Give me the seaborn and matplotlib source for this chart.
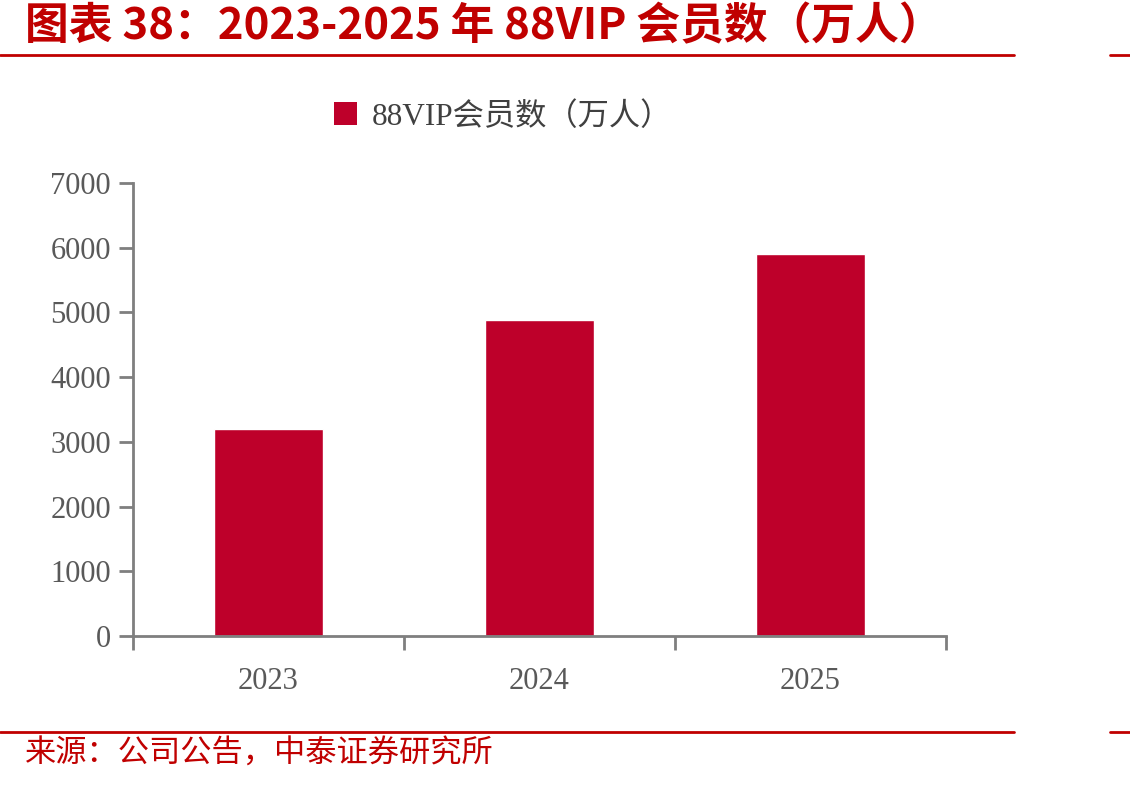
import matplotlib
matplotlib.use("Agg")
import pandas as pd
import seaborn as sns
import matplotlib.pyplot as plt
from matplotlib.patches import Patch
from matplotlib.lines import Line2D

# data
years = ["2023", "2024", "2025"]
members = [3200, 4890, 5910]
y_ticks = [0, 1000, 2000, 3000, 4000, 5000, 6000, 7000]

title_text = "图表 38：2023-2025 年 88VIP 会员数（万人）"
legend_text = "88VIP会员数（万人）"
source_text = "来源：公司公告，中泰证券研究所"

df = pd.DataFrame({"year": years, "members": members})

sns.set_style("white")
plt.rcParams["font.family"] = ["Liberation Serif", "Noto Sans CJK SC", "DejaVu Sans"]

red = "#C00000"
bar_red = "#BE002A"
grey = "#7F7F7F"
text_grey = "#595959"

fig = plt.figure(figsize=(11.3, 7.85), dpi=100)
ax = fig.add_axes([0.1177, 0.1898, 0.7195, 0.577])

sns.barplot(data=df, x="year", y="members", color=bar_red, width=0.4,
            saturation=1, ax=ax)

ax.set_xlim(-0.5, 2.5)
ax.set_ylim(0, 7000)
ax.set_yticks(y_ticks)
ax.set_xlabel("")
ax.set_ylabel("")

for side in ["top", "right"]:
    ax.spines[side].set_visible(False)
for side in ["left", "bottom"]:
    ax.spines[side].set_color(grey)
    ax.spines[side].set_linewidth(2)

# category separators as downward ticks on the x axis
ax.set_xticks([-0.5, 0.5, 1.5, 2.5], minor=True)
ax.tick_params(axis="x", which="minor", length=10, width=2, color=grey,
               direction="out", bottom=True)
ax.tick_params(axis="x", which="major", length=0, pad=22,
               labelsize=22, labelcolor=text_grey)
ax.tick_params(axis="y", length=10, width=2, color=grey, direction="out",
               left=True, pad=6, labelsize=22, labelcolor=text_grey)

# legend above the plot
handle = Patch(facecolor=bar_red, edgecolor="none")
fig.legend([handle], [legend_text], loc="center", bbox_to_anchor=(0.445, 0.851),
           frameon=False, labelcolor="#404040",
           handlelength=0.75, handleheight=0.75, handletextpad=0.45,
           prop={"family": ["Liberation Serif", "Noto Sans CJK SC"], "size": 22.5})

# header and footer
fig.text(0.022, 0.966, title_text, color=red, fontsize=31.5, fontweight="bold",
         ha="left", va="center", family=["Noto Sans CJK SC", "DejaVu Sans"])
fig.text(0.022, 0.040, source_text, color=red, fontsize=22.5,
         ha="left", va="center", family=["Noto Sans CJK SC", "DejaVu Sans"])

for yy in [1 - 55 / 785, 1 - 732 / 785]:
    fig.add_artist(Line2D([0.0, 0.897], [yy, yy], color=red, linewidth=2,
                          transform=fig.transFigure))
    fig.add_artist(Line2D([0.982, 1.0], [yy, yy], color=red, linewidth=2,
                          transform=fig.transFigure))

fig.savefig("out.png", dpi=100, facecolor="white")
